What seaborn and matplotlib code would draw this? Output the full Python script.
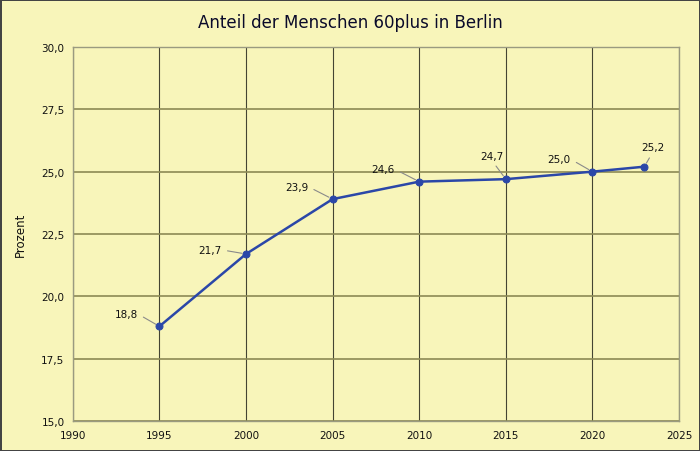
import seaborn as sns
import matplotlib
matplotlib.use('Agg')
import matplotlib.pyplot as plt
import pandas as pd

years = [1995, 2000, 2005, 2010, 2015, 2020, 2023]
anteil = [18.8, 21.7, 23.9, 24.6, 24.7, 25.0, 25.2]
# label offsets in points (dx, dy)
lab_off = [(-24, 9), (-26, 3), (-26, 9), (-26, 9), (-10, 17), (-24, 9), (6, 14)]
y_ticks = [15.0, 17.5, 20.0, 22.5, 25.0, 27.5, 30.0]
x_ticks = [1990, 1995, 2000, 2005, 2010, 2015, 2020, 2025]

bg = '#F8F5BA'
sns.set_style('white')
plt.rcParams['font.family'] = ['DejaVu Sans']

df = pd.DataFrame({'Jahr': years, 'Anteil': anteil})

fig = plt.figure(figsize=(7, 4.52), dpi=100)
fig.patch.set_facecolor(bg)
fig.patch.set_edgecolor('#444444')
fig.patch.set_linewidth(2)
ax = fig.add_axes([0.104, 0.066, 0.866, 0.828])
ax.set_facecolor(bg)

sns.lineplot(data=df, x='Jahr', y='Anteil', ax=ax, color='#2B47A8', lw=1.8,
             marker='o', markersize=5, markeredgecolor='#2B47A8')

for x, y, (dx, dy) in zip(years, anteil, lab_off):
    rel = (1.0, 0.5) if dx < -15 else (0.5, 0.0)
    ax.annotate(f'{y:.1f}'.replace('.', ','), xy=(x, y), xytext=(dx, dy),
                textcoords='offset points', fontsize=7.5, ha='center', va='center',
                color='#111111',
                arrowprops=dict(arrowstyle='-', color='#8A8A8A', lw=0.8,
                                shrinkA=2, shrinkB=3, relpos=rel))

ax.set_xlim(1990, 2025)
ax.set_ylim(15, 30)
ax.set_xticks(x_ticks)
ax.set_yticks(y_ticks)
ax.set_yticklabels([f'{v:.1f}'.replace('.', ',') for v in y_ticks])
ax.tick_params(labelsize=7.5, length=0, pad=6, labelcolor='#111111')
ax.grid(axis='x', color='#444433', lw=0.8)
ax.grid(axis='y', color='#8C8A55', lw=1.2)
ax.set_axisbelow(True)
for s in ax.spines.values():
    s.set_color('#9A9A80')
    s.set_linewidth(1)
ax.set_xlabel('')
ax.set_ylabel('Prozent', fontsize=8.5, labelpad=10, color='#111111')
fig.text(0.5, 0.95, 'Anteil der Menschen 60plus in Berlin', ha='center', va='center',
         fontsize=12, color='#0A0A2A')

fig.savefig('out.png', dpi=100, facecolor=bg, edgecolor='#444444')
